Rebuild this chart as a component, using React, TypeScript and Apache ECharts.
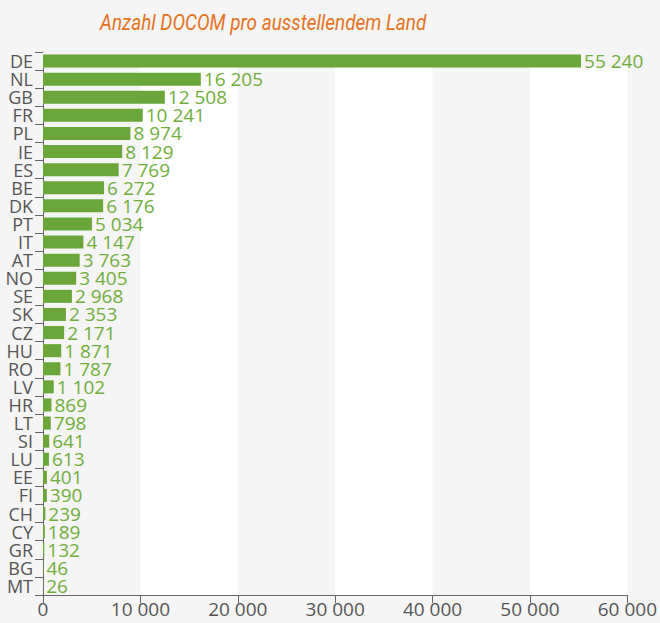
import React, { useEffect, useRef } from "react";
import * as echarts from "echarts";

const categories = ["DE","NL","GB","FR","PL","IE","ES","BE","DK","PT","IT","AT","NO","SE","SK","CZ","HU","RO","LV","HR","LT","SI","LU","EE","FI","CH","CY","GR","BG","MT"];
const values = [55240,16205,12508,10241,8974,8129,7769,6272,6176,5034,4147,3763,3405,2968,2353,2171,1871,1787,1102,869,798,641,613,401,390,239,189,132,46,26];
const xTicks = [0, 10000, 20000, 30000, 40000, 50000, 60000];
const titleText = "Anzahl DOCOM pro ausstellendem Land";

const fmt = (v: number) => String(v).replace(/\B(?=(\d{3})+(?!\d))/g, " ");

export default function App() {
  const ref = useRef<HTMLDivElement>(null);
  useEffect(() => {
    document.body.style.margin = "0";
    document.body.style.overflow = "hidden";
    if (!ref.current) return;
    const chart = echarts.init(ref.current, null, { renderer: "svg" });
    const font = "'Open Sans', sans-serif";
    chart.setOption({
      animation: false,
      backgroundColor: "#f5f5f5",
      grid: { left: 43, top: 52, width: 593, height: 543 },
      xAxis: {
        type: "value",
        min: xTicks[0],
        max: xTicks[xTicks.length - 1],
        interval: 10000,
        axisLine: { show: true, lineStyle: { color: "#666", width: 1 } },
        axisTick: { show: true, length: 8, lineStyle: { color: "#666" } },
        axisLabel: { color: "#555", fontSize: 19, fontFamily: font, margin: 4, lineHeight: 20, formatter: (v: number) => fmt(v) },
        splitLine: { show: false },
        splitArea: { show: true, areaStyle: { color: ["#f5f5f5", "#ffffff"] } },
      },
      yAxis: {
        type: "category",
        data: categories,
        inverse: true,
        axisLine: { show: true, lineStyle: { color: "#666" } },
        axisTick: { show: true, length: 8, lineStyle: { color: "#666" } },
        axisLabel: { color: "#555", fontSize: 18, fontFamily: font, margin: 10, interval: 0, lineHeight: 16 },
      },
      graphic: [
        { type: "rect", z: 1, shape: { x: 43, y: 52, width: 593, height: 15 }, style: { fill: "#f5f5f5" }, silent: true },
        {
          type: "text",
          z: 10,
          x: 100,
          y: 11,
          scaleX: 0.86,
          style: {
            text: titleText,
            fill: "#e8711f",
            fontStyle: "italic",
            fontSize: 22,
            fontFamily: "Roboto, sans-serif",
            verticalAlign: "top",
            align: "left",
          },
        },
      ],
      series: [
        {
          type: "bar",
          data: values,
          barCategoryGap: "28%",
          itemStyle: { color: "#6aa639" },
          label: {
            show: true,
            position: "right",
            distance: 3,
            color: "#6fae3c",
            fontSize: 19,
            lineHeight: 16,
            fontFamily: font,
            formatter: (p: any) => fmt(p.value),
          },
          z: 3,
        },
      ],
    });
    return () => chart.dispose();
  }, []);
  return (
    <div style={{ position: "absolute", left: 0, top: 0, width: 660, height: 623, background: "#f5f5f5" }}>
      <div ref={ref} style={{ width: 660, height: 623 }} />
    </div>
  );
}
